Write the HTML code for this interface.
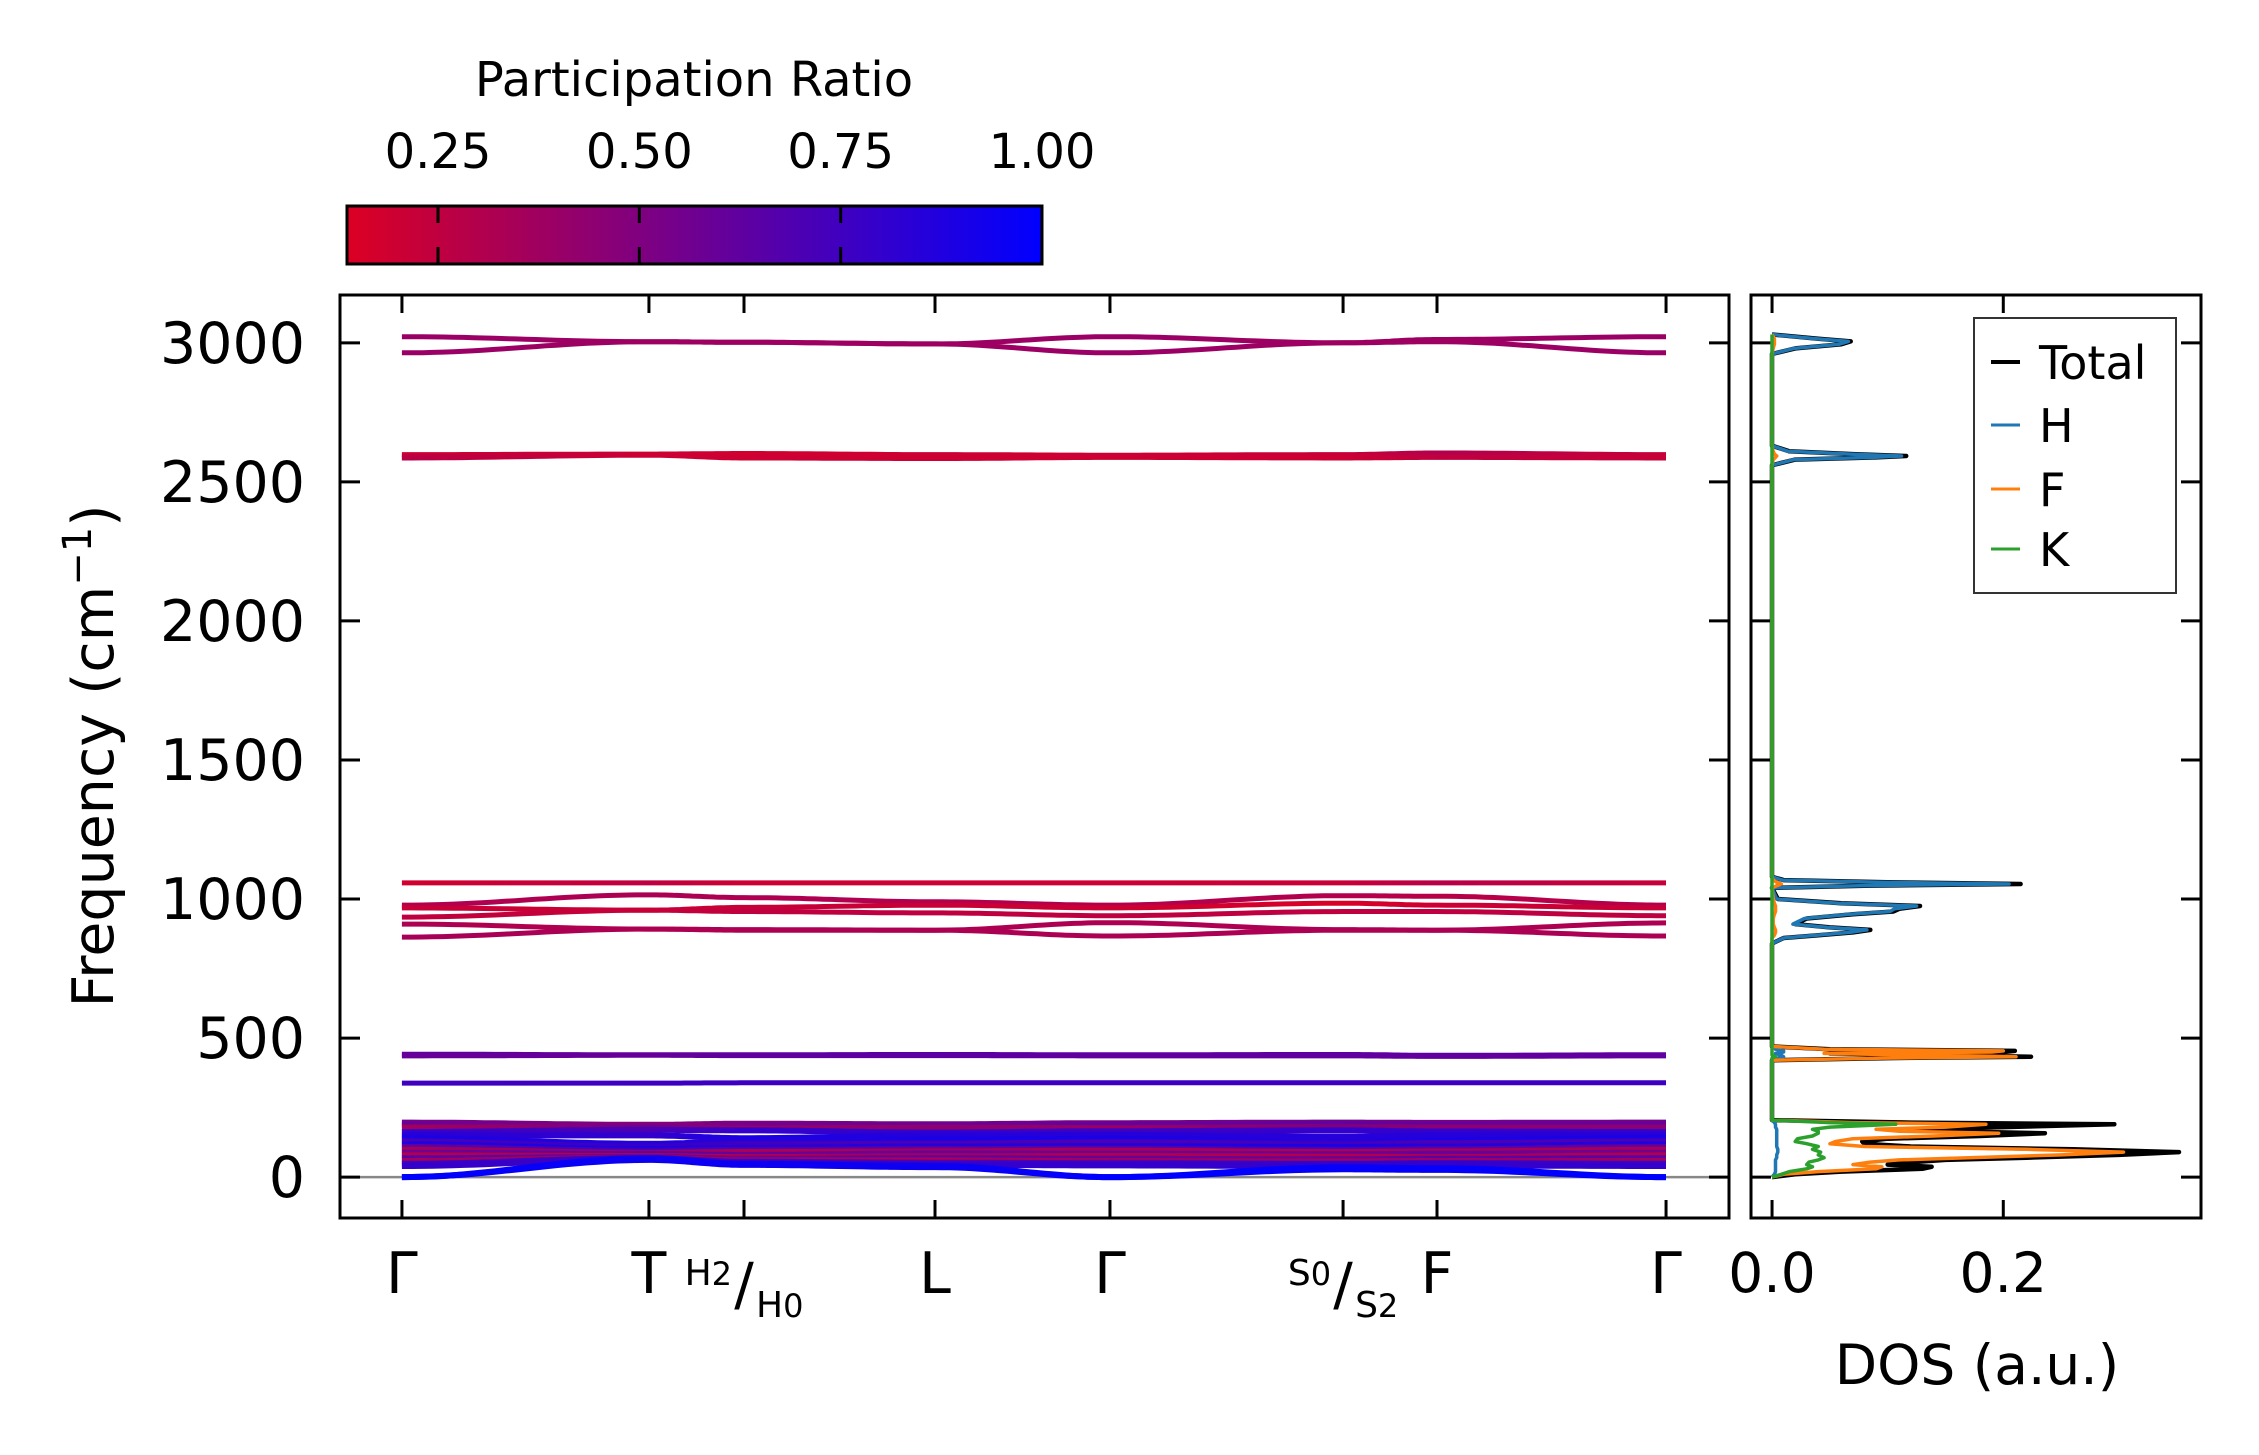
<!DOCTYPE html>
<html><head><meta charset="utf-8"><style>
html,body{margin:0;padding:0;background:#fff;}
svg{display:block;font-family:"DejaVu Sans","Liberation Sans",sans-serif;}
</style></head><body>
<svg id="chart" width="2259" height="1455" viewBox="0 0 2259 1455" xmlns="http://www.w3.org/2000/svg">
<defs id="defs"></defs>
<rect width="2259" height="1455" fill="#fff"/>
<g id="colorbar"></g>
<g id="main"></g>
<g id="dos"></g>
</svg>
<script>
// ---------- data ----------
const kLabels = ["Γ","T","H2/H0","L","Γ","S0/S2","F","Γ"];
const kDist = [0, 0.1954, 0.2706, 0.4217, 0.5601, 0.7445, 0.8188, 1.0];
const yTicks = [0, 500, 1000, 1500, 2000, 2500, 3000];
const bandFreqs = [
 [3022,3004,3002,2996,3022,3000,3012,3022],
 [2964,3004,3002,2996,2964,3000,3004,2964],
 [2598,2600,2602,2598,2596,2598,2604,2598],
 [2590,2598,2594,2590,2592,2592,2594,2590],
 [2586,2596,2586,2584,2588,2586,2588,2586],
 [1058,1058,1058,1058,1058,1058,1058,1058],
 [978,1015,1005,990,978,1012,1010,978],
 [968,960,970,978,968,985,978,968],
 [935,960,955,950,940,955,955,940],
 [910,892,890,888,915,890,888,914],
 [863,892,888,888,867,888,888,867],
 [442,440,440,441,440,441,438,440],
 [436,438,437,437,436,436,434,436],
 [338,338,339,339,339,339,339,339],
 [196,188,192,190,194,196,195,196],
 [188,185,186,185,186,190,188,188],
 [178,180,175,178,176,180,178,178],
 [162,170,168,160,165,168,164,162],
 [150,150,140,150,152,145,150,150],
 [140,120,128,135,138,130,132,140],
 [128,110,118,120,125,118,122,128],
 [118,100,105,110,112,108,110,118],
 [108,95,98,100,102,98,100,108],
 [98,88,90,92,95,90,92,98],
 [88,82,80,85,84,82,84,88],
 [78,76,72,75,76,74,72,78],
 [68,72,66,68,66,64,66,68],
 [58,70,60,60,58,56,58,58],
 [48,68,55,52,50,48,50,48],
 [40,66,50,45,42,40,42,40],
 [0,68,48,40,0,35,32,0],
 [0,62,44,36,0,28,26,0]
];
const bandPR = [
 [0.4,0.38,0.38,0.38,0.4,0.38,0.38,0.4],
 [0.4,0.38,0.38,0.38,0.4,0.38,0.38,0.4],
 [0.2,0.22,0.18,0.2,0.2,0.22,0.3,0.22],
 [0.25,0.2,0.18,0.2,0.2,0.22,0.3,0.22],
 [0.28,0.2,0.2,0.2,0.2,0.2,0.25,0.22],
 [0.18,0.25,0.2,0.2,0.2,0.22,0.28,0.22],
 [0.3,0.33,0.32,0.3,0.3,0.3,0.28,0.3],
 [0.22,0.2,0.22,0.22,0.2,0.15,0.2,0.22],
 [0.25,0.22,0.25,0.25,0.25,0.25,0.25,0.25],
 [0.32,0.3,0.32,0.32,0.32,0.32,0.32,0.32],
 [0.35,0.32,0.32,0.32,0.33,0.33,0.33,0.33],
 [0.62,0.62,0.64,0.66,0.64,0.64,0.64,0.64],
 [0.6,0.6,0.62,0.64,0.62,0.62,0.62,0.62],
 [0.75,0.76,0.76,0.76,0.76,0.76,0.76,0.76],
 [0.55,0.5,0.5,0.52,0.55,0.55,0.55,0.55],
 [0.6,0.45,0.55,0.6,0.6,0.62,0.6,0.6],
 [0.35,0.55,0.4,0.45,0.4,0.5,0.45,0.45],
 [0.8,0.7,0.8,0.8,0.75,0.8,0.8,0.8],
 [0.85,0.8,0.9,0.85,0.85,0.85,0.85,0.85],
 [0.9,0.85,0.85,0.9,0.9,0.85,0.9,0.9],
 [0.7,0.8,0.75,0.7,0.7,0.75,0.7,0.7],
 [0.88,0.9,0.85,0.85,0.85,0.9,0.85,0.88],
 [0.6,0.75,0.7,0.6,0.65,0.7,0.65,0.6],
 [0.35,0.45,0.3,0.35,0.35,0.3,0.35,0.35],
 [0.55,0.7,0.6,0.6,0.6,0.6,0.6,0.55],
 [0.3,0.3,0.3,0.35,0.3,0.3,0.3,0.3],
 [0.65,0.6,0.6,0.65,0.6,0.6,0.65,0.65],
 [0.35,0.4,0.35,0.3,0.4,0.35,0.4,0.35],
 [0.75,0.8,0.75,0.7,0.75,0.8,0.8,0.75],
 [0.8,0.75,0.75,0.8,0.8,0.8,0.8,0.8],
 [1.0,0.95,0.95,0.95,1.0,0.98,0.98,1.0],
 [1.0,0.95,0.95,0.95,1.0,0.98,0.98,1.0]
];
const dosFreq = [0,10,20,30,37,45,54,62,70,80,90,100,110,120,128,138,148,158,165,172,180,190,196,205,300,420,428,433,438,445,450,454,460,470,840,860,870,880,889,898,910,930,945,955,965,975,985,1000,1040,1048,1054,1060,1068,1080,2560,2580,2588,2593,2600,2610,2630,2960,2980,2995,3005,3015,3030];
const dosTotal = [0,0.02,0.06,0.13,0.138,0.10,0.122,0.15,0.22,0.30,0.352,0.26,0.12,0.08,0.078,0.10,0.18,0.236,0.15,0.12,0.20,0.296,0.12,0,0,0,0.10,0.224,0.15,0.05,0.20,0.21,0.05,0,0,0.01,0.04,0.07,0.085,0.05,0.02,0.03,0.07,0.105,0.11,0.128,0.06,0.005,0,0.08,0.215,0.10,0.01,0,0,0.02,0.09,0.116,0.07,0.015,0,0,0.02,0.06,0.068,0.04,0];
const dosH = [0,0.002,0.003,0.003,0.003,0.003,0.003,0.003,0.004,0.004,0.005,0.005,0.004,0.004,0.004,0.004,0.004,0.004,0.004,0.004,0.003,0.003,0.002,0,0,0,0.005,0.01,0.008,0.003,0.01,0.01,0.003,0,0,0.01,0.038,0.067,0.082,0.048,0.018,0.028,0.067,0.102,0.106,0.125,0.057,0.004,0,0.076,0.205,0.095,0.009,0,0,0.019,0.087,0.112,0.068,0.014,0,0,0.019,0.058,0.066,0.038,0];
const dosF = [0,0.01,0.04,0.09,0.095,0.07,0.085,0.11,0.17,0.25,0.304,0.22,0.08,0.05,0.055,0.07,0.14,0.196,0.11,0.09,0.15,0.185,0.07,0,0,0,0.095,0.211,0.14,0.045,0.19,0.20,0.045,0,0,0,0.002,0.003,0.003,0.002,0.001,0.001,0.002,0.003,0.003,0.003,0.002,0.001,0,0.004,0.008,0.004,0.001,0,0,0.001,0.003,0.004,0.002,0.001,0,0,0.001,0.002,0.002,0.002,0];
const dosK = [0,0.008,0.015,0.03,0.035,0.03,0.032,0.04,0.045,0.04,0.042,0.035,0.04,0.03,0.02,0.022,0.035,0.04,0.04,0.035,0.05,0.107,0.05,0,0,0,0,0.003,0,0,0,0,0,0,0,0,0,0,0,0,0,0,0,0,0,0,0,0,0,0,0,0,0,0,0,0,0,0,0,0,0,0,0,0,0,0,0];
const dosTicks = [0.0, 0.2];
const cbTicks = [0.25, 0.5, 0.75, 1.0];
const legendNames = ["Total","H","F","K"];

// ---------- helpers ----------
const NS = "http://www.w3.org/2000/svg";
function mk(tag, attrs, parent){ const e=document.createElementNS(NS,tag); for(const k in attrs) e.setAttribute(k,attrs[k]); if(parent) parent.appendChild(e); return e; }
function prColor(t){ t=Math.max(0,Math.min(1,t)); return `rgb(${Math.round(255*(1-t))},0,${Math.round(255*t)})`; }

const M = {x0:340, x1:1729, y0:295, y1:1218};
const fMin=-147, fMax=3172;
const yScale = f => M.y1 - (f - fMin)/(fMax-fMin)*(M.y1-M.y0);
const kMin=-0.049, kMax=1.0498;
const xScale = k => M.x0 + (k-kMin)/(kMax-kMin)*(M.x1-M.x0);
const D = {x0:1751, x1:2201};
const dMin=-0.0182, dMax=0.371;
const dScale = v => D.x0 + (v-dMin)/(dMax-dMin)*(D.x1-D.x0);

const main = document.getElementById('main');
const dos = document.getElementById('dos');
const cb = document.getElementById('colorbar');
const defs = document.getElementById('defs');

// ---------- colorbar ----------
const CB = {x0:347, x1:1042, y0:206, y1:264};
const cbMin=0.137, cbMax=1.0;
const cbScale = v => CB.x0 + (v-cbMin)/(cbMax-cbMin)*(CB.x1-CB.x0);
const cg = mk('linearGradient',{id:'cbgrad',x1:'0',x2:'1',y1:'0',y2:'0'},defs);
mk('stop',{offset:'0','stop-color':prColor(cbMin)},cg);
mk('stop',{offset:'1','stop-color':prColor(cbMax)},cg);
const cbRect = mk('rect',{x:CB.x0,y:CB.y0,width:CB.x1-CB.x0,height:CB.y1-CB.y0,fill:'url(#cbgrad)',stroke:'#000','stroke-width':3},cb);


cbTicks.forEach(v=>{
  const x=cbScale(v);
  if(v<1){ mk('line',{x1:x,x2:x,y1:CB.y0,y2:CB.y0+17,stroke:'#000','stroke-width':3},cb);
           mk('line',{x1:x,x2:x,y1:CB.y1-17,y2:CB.y1,stroke:'#000','stroke-width':3},cb); }
  const t=mk('text',{x:x,y:168,'font-size':48,'text-anchor':'middle'},cb);
  t.textContent=v.toFixed(2);
  
  
});
const cbTitle = mk('text',{x:694,y:96,'font-size':48,'text-anchor':'middle'},cb);
cbTitle.textContent='Participation Ratio';



// ---------- main bands ----------
const clipM = mk('clipPath',{id:'clipM'},defs);
mk('rect',{x:M.x0,y:M.y0,width:M.x1-M.x0,height:M.y1-M.y0},clipM);
const bandG = mk('g',{'clip-path':'url(#clipM)'},main);
const zl = mk('line',{x1:M.x0,x2:M.x1,y1:yScale(0),y2:yScale(0),stroke:'#888','stroke-width':2.5},bandG);


function ease(t){ return (1-Math.cos(Math.PI*t))/2; }
bandFreqs.forEach((fr,bi)=>{
  const pr = bandPR[bi];
  const gid='bg'+bi;
  const g = mk('linearGradient',{id:gid,gradientUnits:'userSpaceOnUse',x1:xScale(0),x2:xScale(1),y1:0,y2:0},defs);
  kDist.forEach((k,i)=>mk('stop',{offset:k,'stop-color':prColor(pr[i])},g));
  let d='';
  for(let s=0;s<kDist.length-1;s++){
    const N=24;
    for(let j=0;j<=N;j++){
      if(s>0 && j===0) continue;
      const t=j/N; const k=kDist[s]+(kDist[s+1]-kDist[s])*t;
      const f=fr[s]+(fr[s+1]-fr[s])*ease(t);
      d += (d?'L':'M') + xScale(k).toFixed(1)+','+yScale(f).toFixed(1);
    }
  }
  const lw = fr[0] < 250 ? 6 : 5;
  const p = mk('path',{d:d,fill:'none',stroke:`url(#${gid})`,'stroke-width':lw,'stroke-linejoin':'round'},bandG);
  
  
});
const frame = mk('rect',{x:M.x0,y:M.y0,width:M.x1-M.x0,height:M.y1-M.y0,fill:'none',stroke:'#000','stroke-width':3},main);


yTicks.forEach(v=>{
  const y=yScale(v);
  mk('line',{x1:M.x0,x2:M.x0+20,y1:y,y2:y,stroke:'#000','stroke-width':3},main);
  mk('line',{x1:M.x1-20,x2:M.x1,y1:y,y2:y,stroke:'#000','stroke-width':3},main);
  mk('line',{x1:D.x0,x2:D.x0+20,y1:y,y2:y,stroke:'#000','stroke-width':3},dos);
  mk('line',{x1:D.x1-20,x2:D.x1,y1:y,y2:y,stroke:'#000','stroke-width':3},dos);
  const t=mk('text',{x:305,y:y+20,'font-size':57,'text-anchor':'end'},main);
  t.textContent=String(v);
  
  
});
const yl = mk('text',{x:0,y:0,'font-size':57,'text-anchor':'middle',transform:'translate(113,756) rotate(-90)'},main);
yl.innerHTML='Frequency (cm<tspan font-size="40" dy="-22">−1</tspan><tspan dy="22">)</tspan>';


kDist.forEach((k,i)=>{
  const x=xScale(k);
  mk('line',{x1:x,x2:x,y1:M.y0,y2:M.y0+18,stroke:'#000','stroke-width':3},main);
  mk('line',{x1:x,x2:x,y1:M.y1-18,y2:M.y1,stroke:'#000','stroke-width':3},main);
  const lab=kLabels[i];
  const g=mk('g',{},main);
  
  
  if(lab.includes('/')){
    const [a,b]=lab.split('/');
    const t1=mk('text',{x:x-12,y:1285,'font-size':36,'text-anchor':'end'},g);
    t1.innerHTML=a[0]+'<tspan font-size="32">'+a.slice(1)+'</tspan>';
    const sl=mk('text',{x:x,y:1304,'font-size':58,'text-anchor':'middle'},g); sl.textContent='/';
    const t2=mk('text',{x:x+12,y:1317,'font-size':36,'text-anchor':'start'},g);
    t2.innerHTML=b[0]+'<tspan font-size="32">'+b.slice(1)+'</tspan>';
  } else {
    const t=mk('text',{x:x,y:1293,'font-size':57,'text-anchor':'middle'},g);
    t.textContent=lab;
  }
});

// ---------- DOS ----------
const clipD = mk('clipPath',{id:'clipD'},defs);
mk('rect',{x:D.x0,y:M.y0,width:D.x1-D.x0,height:M.y1-M.y0},clipD);
const dg = mk('g',{'clip-path':'url(#clipD)'},dos);
const series = [[dosTotal,'#000',4.5,'dos-total'],[dosH,'#1f77b4',3.5,'dos-h'],[dosF,'#ff7f0e',3.5,'dos-f'],[dosK,'#2ca02c',3.5,'dos-k']];
series.forEach(([vals,col,lw,name])=>{
  let d='';
  dosFreq.forEach((f,i)=>{ d+=(i?'L':'M')+dScale(vals[i]).toFixed(1)+','+yScale(f).toFixed(1); });
  const p=mk('path',{d:d,fill:'none',stroke:col,'stroke-width':lw,'stroke-linejoin':'round'},dg);
  
  
});
const dframe = mk('rect',{x:D.x0,y:M.y0,width:D.x1-D.x0,height:M.y1-M.y0,fill:'none',stroke:'#000','stroke-width':3},dos);


dosTicks.forEach(v=>{
  const x=dScale(v);
  mk('line',{x1:x,x2:x,y1:M.y0,y2:M.y0+18,stroke:'#000','stroke-width':3},dos);
  mk('line',{x1:x,x2:x,y1:M.y1-18,y2:M.y1,stroke:'#000','stroke-width':3},dos);
  const t=mk('text',{x:x,y:1292,'font-size':55,'text-anchor':'middle'},dos);
  t.textContent=v.toFixed(1);
  
  
});
const dl=mk('text',{x:1977,y:1384,'font-size':55,'text-anchor':'middle'},dos);
dl.textContent='DOS (a.u.)';


const lg=mk('g',{},dos);


mk('rect',{x:1974,y:318,width:202,height:275,fill:'#fff',stroke:'#333','stroke-width':2},lg);
const legCols=['#000','#1f77b4','#ff7f0e','#2ca02c'];
const legY=[362,425,489,549];
legendNames.forEach((n,i)=>{
  const e=mk('g',{},lg);
  
  
  mk('line',{x1:1991,x2:2020,y1:legY[i],y2:legY[i],stroke:legCols[i],'stroke-width':i?3:4},e);
  const t=mk('text',{x:2039,y:legY[i]+17,'font-size':46},e);
  t.textContent=n;
});
</script>
</body></html>
